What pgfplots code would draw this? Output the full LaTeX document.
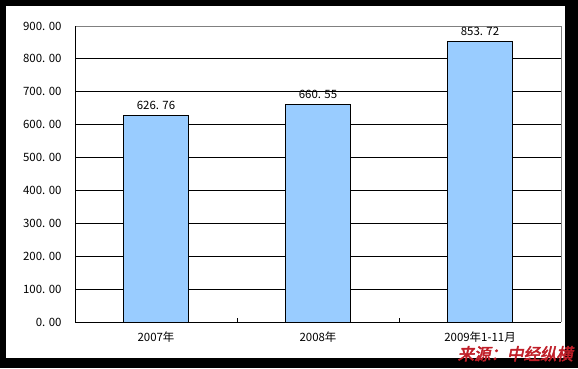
\documentclass[border=0pt]{standalone}
\usepackage{fontspec}
\setmainfont{Noto Sans CJK SC}
\newfontfamily\redfont[FakeSlant=0.2,FakeBold=3]{Noto Sans CJK SC}
\usepackage{pgfplots}
\pgfplotsset{compat=1.18}
\definecolor{barblue}{RGB}{153,204,255}
\definecolor{srcred}{RGB}{192,30,40}
\begin{document}
\begin{tikzpicture}[x=1bp,y=1bp]
\fill[black] (0,0) rectangle (578,368);
\fill[white] (6,10) rectangle (565,362);
\begin{axis}[
  at={(75bp,46bp)}, anchor=south west,
  scale only axis, width=486bp, height=296bp,
  xmin=-0.5, xmax=2.5, ymin=0, ymax=900,
  ytick={0,100,...,900},
  yticklabels={0. 00,100. 00,200. 00,300. 00,400. 00,500. 00,600. 00,700. 00,800. 00,900. 00},
  xtick=data,
  xticklabels={2007年,2008年,2009年1-11月},
  xtick pos=bottom,
  tick align=inside,
  major tick length=0pt,
  ymajorgrids, grid style={black, line width=1bp},
  axis line style={draw=none},
  tick label style={font=\fontsize{11.5}{13}\selectfont, black},
  yticklabel style={xshift=-10bp},
  xticklabel style={yshift=-6bp},
  extra x ticks={0.5,1.5}, extra x tick labels={},
  extra x tick style={major tick length=4bp, tick align=inside, xtick pos=bottom, major x tick style={draw=black, line width=1bp}, xmajorgrids=false},
  nodes near coords, point meta=explicit symbolic,
  every node near coord/.append style={font=\fontsize{11.5}{13}\selectfont, black, yshift=2bp},
  clip=false,
]
\addplot[ybar, bar width=65bp, fill=barblue, draw=black, line width=1bp]
  coordinates {(0,626.76) [626. 76] (1,660.55) [660. 55] (2,853.72) [853. 72]};
\draw[gray, line width=1bp] (rel axis cs:0,1) -- (rel axis cs:1,1) -- (rel axis cs:1,0);
\draw[black, line width=1bp] (rel axis cs:0,1) -- (rel axis cs:0,0) -- (rel axis cs:1,0);
\end{axis}
\node[anchor=base east, inner sep=0pt, text=srcred, font=\redfont\fontsize{16.5}{18}\selectfont] at (573,8) {来源：中经纵横};
\end{tikzpicture}
\end{document}
